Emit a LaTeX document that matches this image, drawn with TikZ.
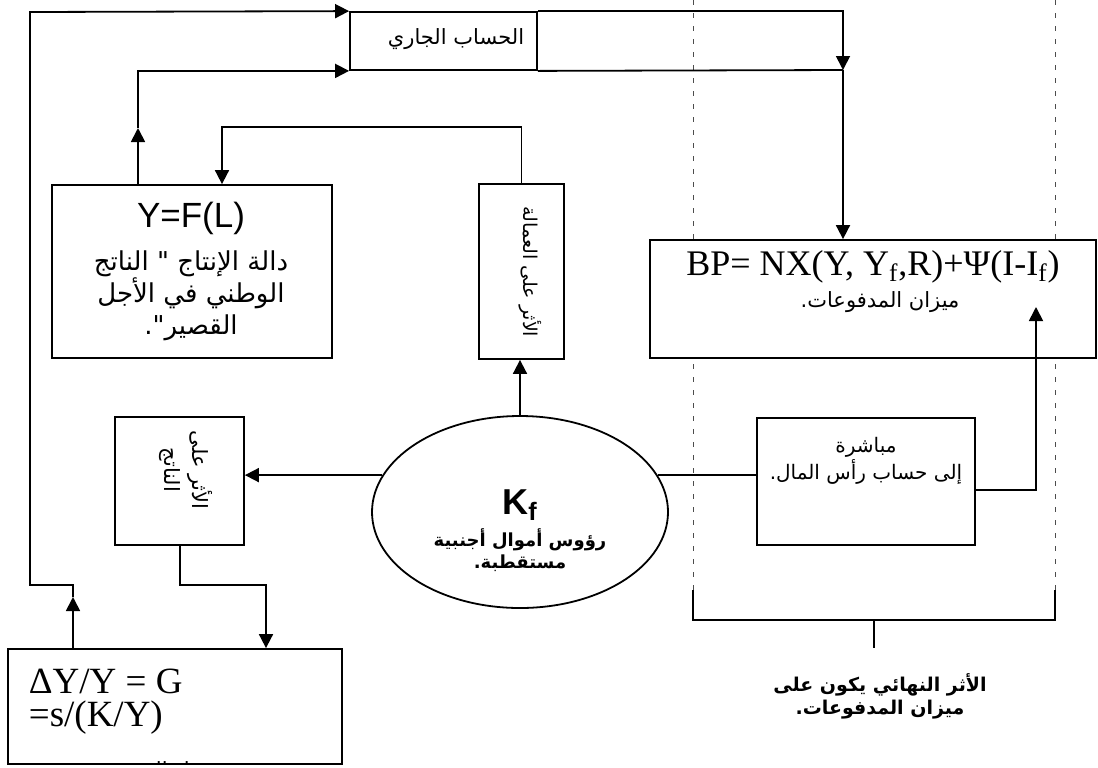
\documentclass[tikz,border=0pt]{standalone}
\usepackage{fontspec}
\setmainfont{Liberation Serif}
\newfontfamily\arsans[Script=Arabic]{DejaVu Sans}
\newfontfamily\arialfam{Liberation Sans}
\TeXXeTstate=1
\usetikzlibrary{arrows.meta,shapes.geometric,fit}
\newcommand{\arl}[1]{\beginR #1\endR}
\begin{document}
\begin{tikzpicture}[x=0.5pt,y=-0.5pt,line width=0.9pt,
  tip/.style={-{Triangle[length=7pt,width=7pt]}},
  box/.style={draw,fill=white,inner sep=0pt},
  artext/.style={font=\arsans\fontsize{10.5}{11}\selectfont,align=center,inner sep=0pt},
  arbold/.style={font=\arsans\bfseries\fontsize{9.5}{11.5}\selectfont,align=center,inner sep=0pt},
  serifbig/.style={font=\fontsize{18.5}{22}\selectfont,inner sep=0pt},
  guide/.style={line width=0.4pt,dash pattern=on 2.5pt off 4pt,black!70}]
\useasboundingbox (0,0) rectangle (1098,767);
% dashed guides and bracket
\coordinate (da) at (693,0);
\coordinate (db) at (1055,0);
\coordinate (dal) at (693,590);
\coordinate (dbl) at (1055,590);
\draw[guide] (da) -- (dal);
\draw[guide] (db) -- (dbl);
\draw (dal) -- (693,620) -- (1055,620) -- (dbl);
\draw (874,620) -- (874,648);
% boxes
\node[box,fit={(350,12) (537,70)}] (ca) {};
\node[artext] (cat) at (456,39) {\arl{الحساب الجاري}};
\node[box,fit={(52,185) (332,358)}] (yf) {};
\node[inner sep=0pt,font=\arialfam\fontsize{17.5}{20}\selectfont] (yft) at (191,218) {Y=F(L)};
\node[artext,font=\arsans\fontsize{13}{16}\selectfont] (yfa) at (191,296) {\arl{دالة الإنتاج " الناتج}\\\arl{الوطني في الأجل}\\\arl{القصير".}};
\node[box,fit={(479,184) (564,359)}] (emp) {};
\node[artext,rotate=-90,font=\arsans\fontsize{9.5}{11}\selectfont] (empt) at (530,272) {\arl{الأثر على العمالة}};
\node[box,fit={(650,240) (1096,358)}] (bp) {};
\node[serifbig,font=\fontsize{18}{22}\selectfont] (bpt) at (873,267) {BP= NX(Y, Y\textsubscript{f},R)+Ψ(I-I\textsubscript{f})};
\node[artext] (bpa) at (880,302) {\arl{ميزان المدفوعات.}};
\node[box,fit={(115,417) (244,545)}] (grow) {};
\node[artext,rotate=-90,font=\arsans\fontsize{10.5}{14}\selectfont] (growt) at (186,470) {\arl{الأثر على}\\\arl{الناتج}};
\node[draw,ellipse,fill=white,inner sep=0pt,minimum width=148pt,minimum height=96pt] (kf) at (520,512) {};
\node[inner sep=0pt,font=\arialfam\bfseries\fontsize{18}{20}\selectfont] (kft) at (520,505) {K\textsubscript{f}};
\node[arbold,font=\arsans\bfseries\fontsize{9}{11}\selectfont] (kfa) at (520,550) {\arl{رؤوس أموال أجنبية}\\\arl{مستقطبة.}};
\node[box,fit={(757,418) (975,545)}] (mb) {};
\node[artext,font=\arsans\fontsize{10}{11}\selectfont] (mbt) at (866,461) {\arl{مباشرة}\\\arl{إلى حساب رأس المال.}};
\node[box,fit={(8,649) (342,764)}] (dy) {};
\node[serifbig,anchor=base west] (dyt1) at (28,693) {ΔY/Y = G};
\node[serifbig,anchor=base west] (dyt2) at (28,726) {=s/(K/Y)};
\begin{scope}
\clip (9,650) rectangle (341,762);
\node[artext,anchor=base] (dyh) at (174,777) {\arl{معدل النمو}};
\end{scope}
\node[arbold] (fin) at (880,696) {\arl{الأثر النهائي يكون على}\\\arl{ميزان المدفوعات.}};
% connectors
\coordinate (t1) at (73,597);
\coordinate (c1) at (73,585);
\coordinate (c2) at (30,12);
\draw[tip] (dy.north -| t1) -- (t1);
\draw[tip] (t1) -- (c1) -| (c2) -- (ca.north west);
\coordinate (t2) at (138,128);
\draw[tip] (yf.north -| t2) -- (t2);
\draw[tip] (t2) |- (ca.south west);
\coordinate (u2) at (222,127);
\draw[tip] (emp.north) |- (u2) -- (yf.north -| u2);
\coordinate (j) at (843,70);
\draw[tip] (ca.north east) -| (j);
\draw (ca.south east) -- (j);
\draw[tip] (j) -- (bp.north -| j);
\draw[tip] (kf.north) -- (kf.north |- emp.south);
\draw[tip] (kf.165) -- (kf.165 -| grow.east);
\draw (kf.15) -- (kf.15 -| mb.west);
\coordinate (r1) at (0,490);
\coordinate (m2) at (1036,307);
\draw[tip] (mb.east |- r1) -| (m2);
\coordinate (g1) at (180,585);
\coordinate (g2) at (266,0);
\draw[tip] (grow.south -| g1) -- (g1) -| (dy.north -| g2);
\end{tikzpicture}
\end{document}
